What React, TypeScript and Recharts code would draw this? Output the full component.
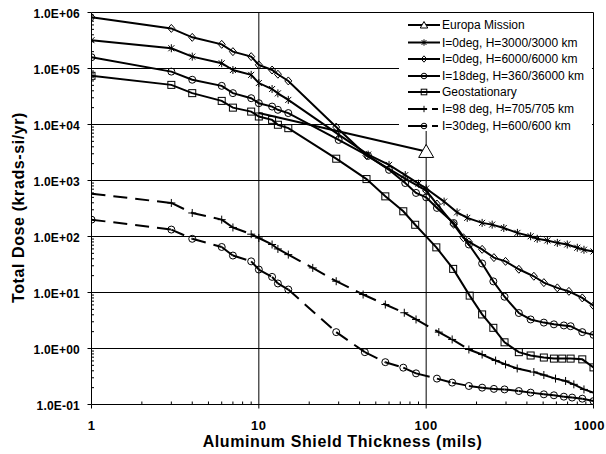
import React from 'react';
import { LineChart, Line, XAxis, YAxis, ReferenceLine } from 'recharts';

// ---------------- data ----------------
const europaX = [10, 100];
const europaY = [1.6e4, 3.3e3];

const i0h3000X = [1, 3, 4, 6, 7, 9, 10, 12, 13, 15, 30, 45, 60, 75, 90, 100, 128, 153, 176, 216, 248, 291, 351, 421, 461, 530, 608, 697, 800, 877, 1000];
const i0h3000Y = [3.2e5, 2.3e5, 1.63e5, 1.24e5, 9.4e4, 7.7e4, 5.5e4, 4.3e4, 3.6e4, 2.75e4, 6.6e3, 2.9e3, 1.9e3, 1.25e3, 880, 720, 420, 270, 215, 175, 163, 142, 116, 101, 91, 85, 77, 72, 63, 58, 54];

const i0h6000X = [1, 3, 4, 6, 7, 9, 10, 12, 13, 15, 29, 44, 74, 100, 116, 146, 167, 180, 216, 254, 298, 358, 440, 505, 608, 713, 857, 1000];
const i0h6000Y = [8.2e5, 5.2e5, 3.6e5, 2.7e5, 2.0e5, 1.63e5, 1.16e5, 9.4e4, 7.9e4, 6.0e4, 9.0e3, 2.8e3, 1.1e3, 660, 380, 165, 95, 80, 59, 42, 36, 26, 19.5, 15, 12.1, 10.5, 8.0, 5.8];

const i18X = [1, 3, 4, 6, 7, 9, 10, 12, 13, 15, 30, 45, 60, 75, 87, 100, 116, 146, 180, 216, 252, 294, 358, 421, 505, 580, 665, 730, 857, 1000];
const i18Y = [1.59e5, 8.8e4, 6.3e4, 4.9e4, 3.63e4, 2.95e4, 2.4e4, 2.09e4, 1.83e4, 1.6e4, 5.3e3, 2.75e3, 1.55e3, 900, 600, 500, 324, 174, 72, 33, 15.8, 8.4, 4.3, 3.3, 2.9, 2.7, 2.58, 2.5, 1.96, 1.75];

const geoX = [1, 3, 4, 6, 7, 9, 10, 12, 13, 15, 29, 44, 57, 73, 86, 115, 145, 182, 216, 252, 294, 358, 421, 505, 580, 650, 730, 857, 1000];
const geoY = [7.4e4, 5.1e4, 3.63e4, 2.64e4, 2.0e4, 1.7e4, 1.39e4, 1.21e4, 9.9e3, 8.6e3, 2.45e3, 1.06e3, 521, 282, 162, 64, 26.4, 8.8, 4.06, 2.34, 1.29, 0.86, 0.75, 0.69, 0.66, 0.66, 0.66, 0.64, 0.46];

const i98X = [1, 3, 4, 6, 7, 9, 10, 12, 13, 15, 21, 29, 42, 57, 74, 87, 119, 143, 180, 216, 260, 298, 350, 440, 505, 593, 681, 763, 877, 1000];
const i98Y = [582, 397, 263, 200, 145, 110, 94, 72, 60, 47.5, 27.5, 15.9, 9.2, 6.1, 4.35, 3.3, 1.96, 1.45, 0.96, 0.78, 0.61, 0.52, 0.44, 0.38, 0.336, 0.29, 0.263, 0.229, 0.186, 0.163];

const i30X = [1, 3, 4, 6, 7, 9, 10, 12, 13, 15, 29, 43, 57, 73, 87, 116, 143, 180, 216, 254, 294, 358, 421, 505, 580, 665, 745, 857, 1000];
const i30Y = [200, 133, 91, 65, 45.7, 36, 25.7, 19, 14.5, 11.3, 1.96, 0.86, 0.57, 0.455, 0.36, 0.29, 0.246, 0.214, 0.2, 0.19, 0.186, 0.174, 0.163, 0.152, 0.146, 0.138, 0.133, 0.127, 0.115];

const seriesNames = [
  'Europa Mission',
  'I=0deg, H=3000/3000 km',
  'I=0deg, H=6000/6000 km',
  'I=18deg, H=360/36000 km',
  'Geostationary',
  'I=98 deg, H=705/705 km',
  'I=30deg, H=600/600 km',
];

const xMajorTicks = [1, 10, 100, 1000];
const xTickLabels = ['1', '10', '100', '1000'];
const xMinorTicks = [2, 3, 4, 5, 6, 7, 8, 9, 20, 30, 40, 50, 60, 70, 80, 90, 200, 300, 400, 500, 600, 700, 800, 900];

const yMajorTicks = [0.1, 1, 10, 100, 1e3, 1e4, 1e5, 1e6];
const yTickLabels = ['1.0E-01', '1.0E+00', '1.0E+01', '1.0E+02', '1.0E+03', '1.0E+04', '1.0E+05', '1.0E+06'];
const yMinorTicks = [
  0.2, 0.3, 0.4, 0.5, 0.6, 0.7, 0.8, 0.9,
  2, 3, 4, 5, 6, 7, 8, 9,
  20, 30, 40, 50, 60, 70, 80, 90,
  200, 300, 400, 500, 600, 700, 800, 900,
  2e3, 3e3, 4e3, 5e3, 6e3, 7e3, 8e3, 9e3,
  2e4, 3e4, 4e4, 5e4, 6e4, 7e4, 8e4, 9e4,
  2e5, 3e5, 4e5, 5e5, 6e5, 7e5, 8e5, 9e5,
];

const xTitle = 'Aluminum Shield Thickness (mils)';
const yTitle = 'Total Dose (krads-si/yr)';

// ---------------- helpers ----------------
type Pt = { x: number; y: number };
const toPts = (xs: number[], ys: number[]): Pt[] => xs.map((x, i) => ({ x, y: ys[i] }));

type MarkerType = 'triangle' | 'star' | 'diamond' | 'circle' | 'square' | 'plus';

const series = [
  { name: seriesNames[0], pts: toPts(europaX, europaY), marker: 'triangle' as MarkerType, dashed: false, skipFirst: true },
  { name: seriesNames[1], pts: toPts(i0h3000X, i0h3000Y), marker: 'star' as MarkerType, dashed: false, skipFirst: false },
  { name: seriesNames[2], pts: toPts(i0h6000X, i0h6000Y), marker: 'diamond' as MarkerType, dashed: false, skipFirst: false },
  { name: seriesNames[3], pts: toPts(i18X, i18Y), marker: 'circle' as MarkerType, dashed: false, skipFirst: false },
  { name: seriesNames[4], pts: toPts(geoX, geoY), marker: 'square' as MarkerType, dashed: false, skipFirst: false },
  { name: seriesNames[5], pts: toPts(i98X, i98Y), marker: 'plus' as MarkerType, dashed: true, skipFirst: false },
  { name: seriesNames[6], pts: toPts(i30X, i30Y), marker: 'circle' as MarkerType, dashed: true, skipFirst: false },
];

function drawMarker(type: MarkerType, cx: number, cy: number, s = 1) {
  const st = { stroke: '#000', strokeWidth: 1, fill: 'none' };
  switch (type) {
    case 'triangle':
      return (
        <polygon
          points={`${cx},${cy - 7 * s} ${cx - 7.5 * s},${cy + 6 * s} ${cx + 7.5 * s},${cy + 6 * s}`}
          stroke="#000" strokeWidth={1} fill="#fff"
        />
      );
    case 'diamond':
      return <polygon points={`${cx},${cy - 4 * s} ${cx + 3.5 * s},${cy} ${cx},${cy + 4 * s} ${cx - 3.5 * s},${cy}`} {...st} />;
    case 'circle':
      return <circle cx={cx} cy={cy} r={3.5 * s} {...st} />;
    case 'square':
      return <rect x={cx - 3.5 * s} y={cy - 3.5 * s} width={7 * s} height={7 * s} {...st} />;
    case 'star':
      return (
        <g {...st}>
          <line x1={cx - 3 * s} y1={cy - 3 * s} x2={cx + 3 * s} y2={cy + 3 * s} />
          <line x1={cx - 3 * s} y1={cy + 3 * s} x2={cx + 3 * s} y2={cy - 3 * s} />
          <line x1={cx} y1={cy - 4 * s} x2={cx} y2={cy + 4 * s} />
        </g>
      );
    case 'plus':
      return (
        <g {...st}>
          <line x1={cx} y1={cy - 4 * s} x2={cx} y2={cy + 4 * s} />
          <line x1={cx - 4 * s} y1={cy} x2={cx + 4 * s} y2={cy} />
        </g>
      );
  }
  return null;
}

const makeDot = (type: MarkerType, skipFirst: boolean) => (props: any) => {
  const { cx, cy, index } = props;
  if (cx == null || cy == null || (skipFirst && index === 0)) return <g key={`d${index}`} />;
  return <g key={`d${index}`}>{drawMarker(type, cx, cy)}</g>;
};

const FONT = '"Liberation Sans", Arial, sans-serif';

const renderXTick = (props: any) => {
  const { x, y, payload } = props;
  const v = payload.value;
  const idx = xMajorTicks.indexOf(v);
  if (idx >= 0) {
    const last = idx === xMajorTicks.length - 1;
    return (
      <g>
        <line x1={x} x2={x} y1={y} y2={y + 4} stroke="#000" />
        <text
          x={last ? x + 11.5 : x}
          y={y + 25.5}
          textAnchor={last ? 'end' : 'middle'}
          fontFamily={FONT}
          fontWeight="bold"
          fontSize={13}
          fill="#000"
          letterSpacing={0.5}
        >
          {xTickLabels[idx]}
        </text>
      </g>
    );
  }
  return <line x1={x} x2={x} y1={y} y2={y - 3} stroke="#000" />;
};

const renderYTick = (props: any) => {
  const { x, y, payload } = props;
  const v = payload.value;
  const idx = yMajorTicks.indexOf(v);
  if (idx >= 0) {
    return (
      <g>
        <line x1={x - 4} x2={x} y1={y} y2={y} stroke="#000" />
        <text x={x - 11.5} y={y + 5.5} textAnchor="end" fontFamily={FONT} fontWeight="bold" fontSize={12} fill="#000" letterSpacing={0.2}>
          {yTickLabels[idx]}
        </text>
      </g>
    );
  }
  return <line x1={x} x2={x + 2.5} y1={y} y2={y} stroke="#000" />;
};

// whole-window canvas, fixed at the window's top-left corner
const W = 606;
const H = 454;
const PL = 91.5;
const PT = 12.5;
const PW = 502;
const PH = 392;

export default function App() {
  const lines: React.ReactNode[] = [];
  series.forEach((s, si) => {
    if (!s.dashed) {
      lines.push(
        <Line
          key={`s${si}`}
          data={s.pts}
          dataKey="y"
          type="linear"
          stroke="#000"
          strokeWidth={2}
          dot={makeDot(s.marker, s.skipFirst)}
          activeDot={false}
          isAnimationActive={false}
          legendType="none"
        />
      );
    } else {
      for (let i = 0; i < s.pts.length - 1; i++) {
        lines.push(
          <Line
            key={`s${si}seg${i}`}
            data={[s.pts[i], s.pts[i + 1]]}
            dataKey="y"
            type="linear"
            stroke="#000"
            strokeWidth={2}
            strokeDasharray="14 8"
            dot={false}
            activeDot={false}
            isAnimationActive={false}
            legendType="none"
          />
        );
      }
      lines.push(
        <Line
          key={`s${si}dots`}
          data={s.pts}
          dataKey="y"
          type="linear"
          stroke="none"
          dot={makeDot(s.marker, false)}
          activeDot={false}
          isAnimationActive={false}
          legendType="none"
        />
      );
    }
  });

  const legendRowsY = [12, 29.5, 46, 63, 79, 96, 113];

  return (
    <div style={{ position: 'fixed', left: 0, top: 0, width: W, height: H, background: '#fff' }}>
      <LineChart width={W} height={H} margin={{ top: PT, right: W - PL - PW, left: 0, bottom: 0 }}>
        <XAxis
          type="number"
          dataKey="x"
          scale="log"
          domain={[1, 1000]}
          allowDataOverflow
          ticks={[...xMajorTicks, ...xMinorTicks]}
          interval={0}
          tick={renderXTick}
          tickLine={false}
          axisLine={false}
          tickSize={0}
          tickMargin={0}
          height={H - PT - PH}
        />
        <YAxis
          type="number"
          dataKey="y"
          scale="log"
          domain={[0.1, 1e6]}
          allowDataOverflow
          ticks={[...yMajorTicks, ...yMinorTicks]}
          interval={0}
          tick={renderYTick}
          tickLine={false}
          axisLine={false}
          tickSize={0}
          tickMargin={0}
          width={PL}
        />
        {yMajorTicks.map((v) => (
          <ReferenceLine key={`gy${v}`} y={v} stroke="#000" strokeWidth={1} />
        ))}
        {xMajorTicks.map((v) => (
          <ReferenceLine key={`gx${v}`} x={v} stroke="#000" strokeWidth={1} />
        ))}
        {lines}
      </LineChart>
      <svg
        width={W}
        height={H}
        style={{ position: 'absolute', left: 0, top: 0, pointerEvents: 'none' }}
      >
        <text
          x={PL + PW / 2}
          y={447}
          textAnchor="middle"
          fontFamily={FONT}
          fontWeight="bold"
          fontSize={16}
          letterSpacing={0.6}
          fill="#000"
        >
          {xTitle}
        </text>
        <text
          transform={`translate(23.5, ${PT + PH / 2 - 1}) rotate(-90)`}
          textAnchor="middle"
          fontFamily={FONT}
          fontWeight="bold"
          fontSize={16}
          letterSpacing={0.6}
          fill="#000"
        >
          {yTitle}
        </text>
        <g transform="translate(399,13)">
          <rect x={0} y={0} width={193} height={118} fill="#fff" />
          {series.map((s, i) => {
            const ly = legendRowsY[i];
            return (
              <g key={`lg${i}`}>
                {s.dashed ? (
                  <g stroke="#000" strokeWidth={2}>
                    <line x1={9} x2={28} y1={ly} y2={ly} />
                    <line x1={33} x2={39} y1={ly} y2={ly} />
                  </g>
                ) : (
                  <line x1={9} x2={41} y1={ly} y2={ly} stroke="#000" strokeWidth={2} />
                )}
                {drawMarker(s.marker, 25, ly, s.marker === 'triangle' ? 0.5 : 0.8)}
                <text x={43} y={ly + 4.2} fontFamily={FONT} fontSize={12} fill="#000">
                  {s.name}
                </text>
              </g>
            );
          })}
        </g>
      </svg>
    </div>
  );
}
